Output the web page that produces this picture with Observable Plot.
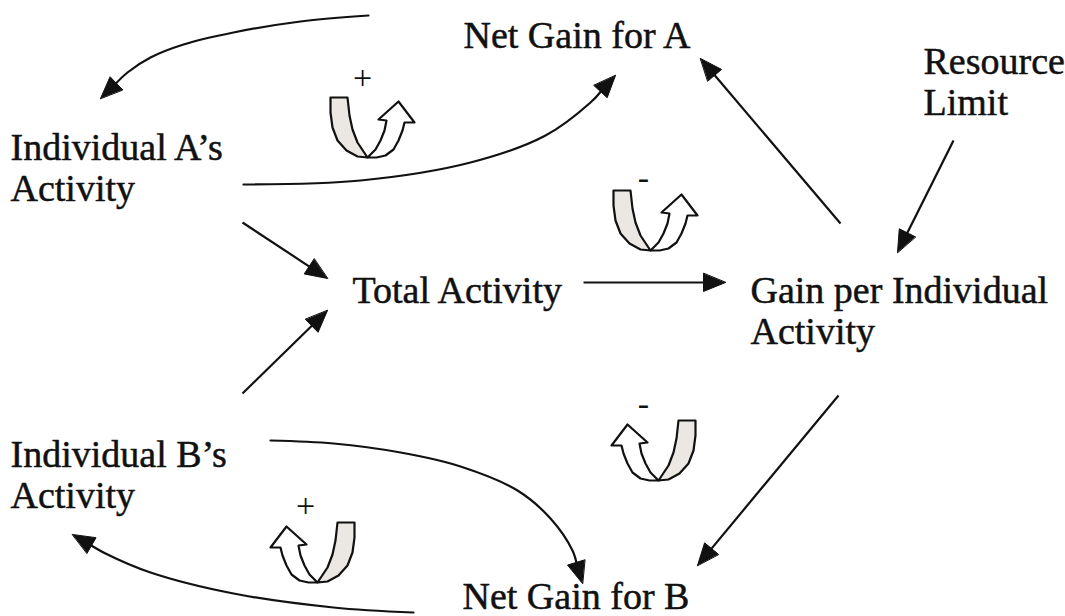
<!DOCTYPE html>
<html><head><meta charset="utf-8">
<script src="https://cdn.jsdelivr.net/npm/d3@7"></script>
<script src="https://cdn.jsdelivr.net/npm/@observablehq/plot@0.6"></script>
<style>
html,body{margin:0;padding:0;background:#fff}
#chart svg text, #chart svg tspan{font-family:"Liberation Serif","Times New Roman",serif !important;}
</style>
</head><body><div id="chart"></div>
<script>
// ---- diagram data (diagram units: 0..1065 across, 0..616 down) ----
const nodeLabels = ["Net Gain for A", "Resource\nLimit", "Individual A’s\nActivity", "Total Activity", "Gain per Individual\nActivity", "Individual B’s\nActivity", "Net Gain for B"];
const nodeX = [463, 923, 10, 352, 750, 10, 462];
const nodeY = [47, 73, 159, 302, 302, 466, 608];

// straight causal links: [x1, y1] -> arrow tip [x2, y2]
const straightFrom = [[840, 223], [953, 140], [242, 222], [242, 393], [583, 282], [838, 395]];
const straightTo   = [[700, 58], [897, 252], [327, 278], [327, 310], [725, 282], [697, 565]];

// curved causal links: waypoints, last one is the arrow tip
const curveNetAtoA = [[368, 15], [300, 21], [233, 32], [183, 44], [150, 57], [127, 72], [100, 98]];
const curveAtoNetA = [[243, 184], [360, 180], [470, 162], [545, 135], [590, 102], [615, 75]];
const curveBtoNetB = [[270, 440], [333, 443], [400, 452], [460, 466], [517, 490], [550, 518], [572, 550], [582, 583]];
const curveNetBtoB = [[413, 612], [333, 607], [233, 593], [150, 572], [105, 553], [72, 534]];
const curves = [curveNetAtoA, curveAtoNetA, curveBtoNetB, curveNetBtoB];

// loop polarity symbols
const loopX = [367, 650, 658, 317];
const loopY = [157, 250, 480, 582];
const loopSign = ["+", "-", "-", "+"];
const loopFlip = [false, false, true, true];
const signX = [362, 643, 643, 305];
const signY = [78, 178, 404, 506];

// ---- geometry helpers ----
const HL = 22, HW = 9;
function head(id, tip, prev) {
  const dx = tip[0] - prev[0], dy = tip[1] - prev[1], len = Math.hypot(dx, dy);
  const ux = dx / len, uy = dy / len;
  const bx = tip[0] - ux * HL, by = tip[1] - uy * HL;
  return {
    poly: [
      {id, x: tip[0], y: tip[1]},
      {id, x: bx - uy * HW, y: by + ux * HW},
      {id, x: bx + uy * HW, y: by - ux * HW}
    ],
    base: [tip[0] - ux * (HL - 3), tip[1] - uy * (HL - 3)]
  };
}

const heads = [];
const shafts = [];
straightFrom.forEach((f, i) => {
  const h = head("s" + i, straightTo[i], f);
  heads.push(...h.poly);
  shafts.push({x1: f[0], y1: f[1], x2: h.base[0], y2: h.base[1]});
});
const curvePts = [];
curves.forEach((c, i) => {
  const tip = c[c.length - 1], prev = c[c.length - 2];
  const h = head("c" + i, tip, prev);
  heads.push(...h.poly);
  c.slice(0, -1).forEach(p => curvePts.push({id: i, x: p[0], y: p[1]}));
  curvePts.push({id: i, x: h.base[0], y: h.base[1]});
});

// loop symbol template (relative to the bottom of the U)
const bandShape = [[-37,-60],[-37,-45],[-35,-30],[-30,-17],[-21,-7],[-10,-1],[0,0],[-4,-6],[-10,-15],[-15,-28],[-18,-42],[-20,-60]];
const armShape = [[0,0],[9,0],[18,-2],[26,-8],[31,-17],[35,-27],[37,-35],[47,-35],[31,-56],[11,-38],[19,-37],[17,-27],[13,-17],[8,-8],[3,-3]];
const bandPts = [], armPts = [];
loopX.forEach((lx, i) => {
  const s = loopFlip[i] ? -1 : 1;
  bandShape.forEach(p => bandPts.push({id: i, x: lx + s * p[0], y: loopY[i] + p[1]}));
  armShape.forEach(p => armPts.push({id: i, x: lx + s * p[0], y: loopY[i] + p[1]}));
});
const signs = loopSign.map((t, i) => ({t, x: signX[i], y: signY[i]}));

const FS = 38, LINE = 41;
const labelLines = nodeLabels.flatMap((lab, i) =>
  lab.split("\n").map((t, k) => ({t, x: nodeX[i], y: nodeY[i] + k * LINE})));

const ink = "#111";
const serif = "Liberation Serif, Times New Roman, serif";
const chart = Plot.plot({
  width: 1065, height: 616, margin: 0,
  x: {domain: [0, 1065], range: [0, 1065], axis: null},
  y: {domain: [0, 616], range: [0, 616], axis: null},
  style: {background: "#fff", fontFamily: serif},
  marks: [
    Plot.link(shafts, {x1: "x1", y1: "y1", x2: "x2", y2: "y2", stroke: ink, strokeWidth: 2.2}),
    Plot.line(curvePts, {x: "x", y: "y", z: "id", curve: "catmull-rom", stroke: ink, strokeWidth: 2.2}),
    Plot.line(heads, {x: "x", y: "y", z: "id", curve: "linear-closed", fill: ink, stroke: ink, strokeWidth: 1}),
    Plot.line(armPts, {x: "x", y: "y", z: "id", curve: "linear-closed", fill: "#fff", stroke: ink, strokeWidth: 2.2}),
    Plot.line(bandPts, {x: "x", y: "y", z: "id", curve: "linear-closed", fill: "#ebe7e3", stroke: ink, strokeWidth: 2.2}),
    Plot.text(signs, {x: "x", y: "y", text: "t", fontSize: 34, fontFamily: serif, fill: ink, textAnchor: "middle", lineAnchor: "middle"}),
    Plot.text(labelLines, {x: "x", y: "y", text: "t", fontSize: FS, fontFamily: serif, fill: ink, stroke: ink, strokeWidth: 0.5, textAnchor: "start", lineAnchor: "bottom"})
  ]
});
document.getElementById("chart").appendChild(chart);
</script>
</body></html>
